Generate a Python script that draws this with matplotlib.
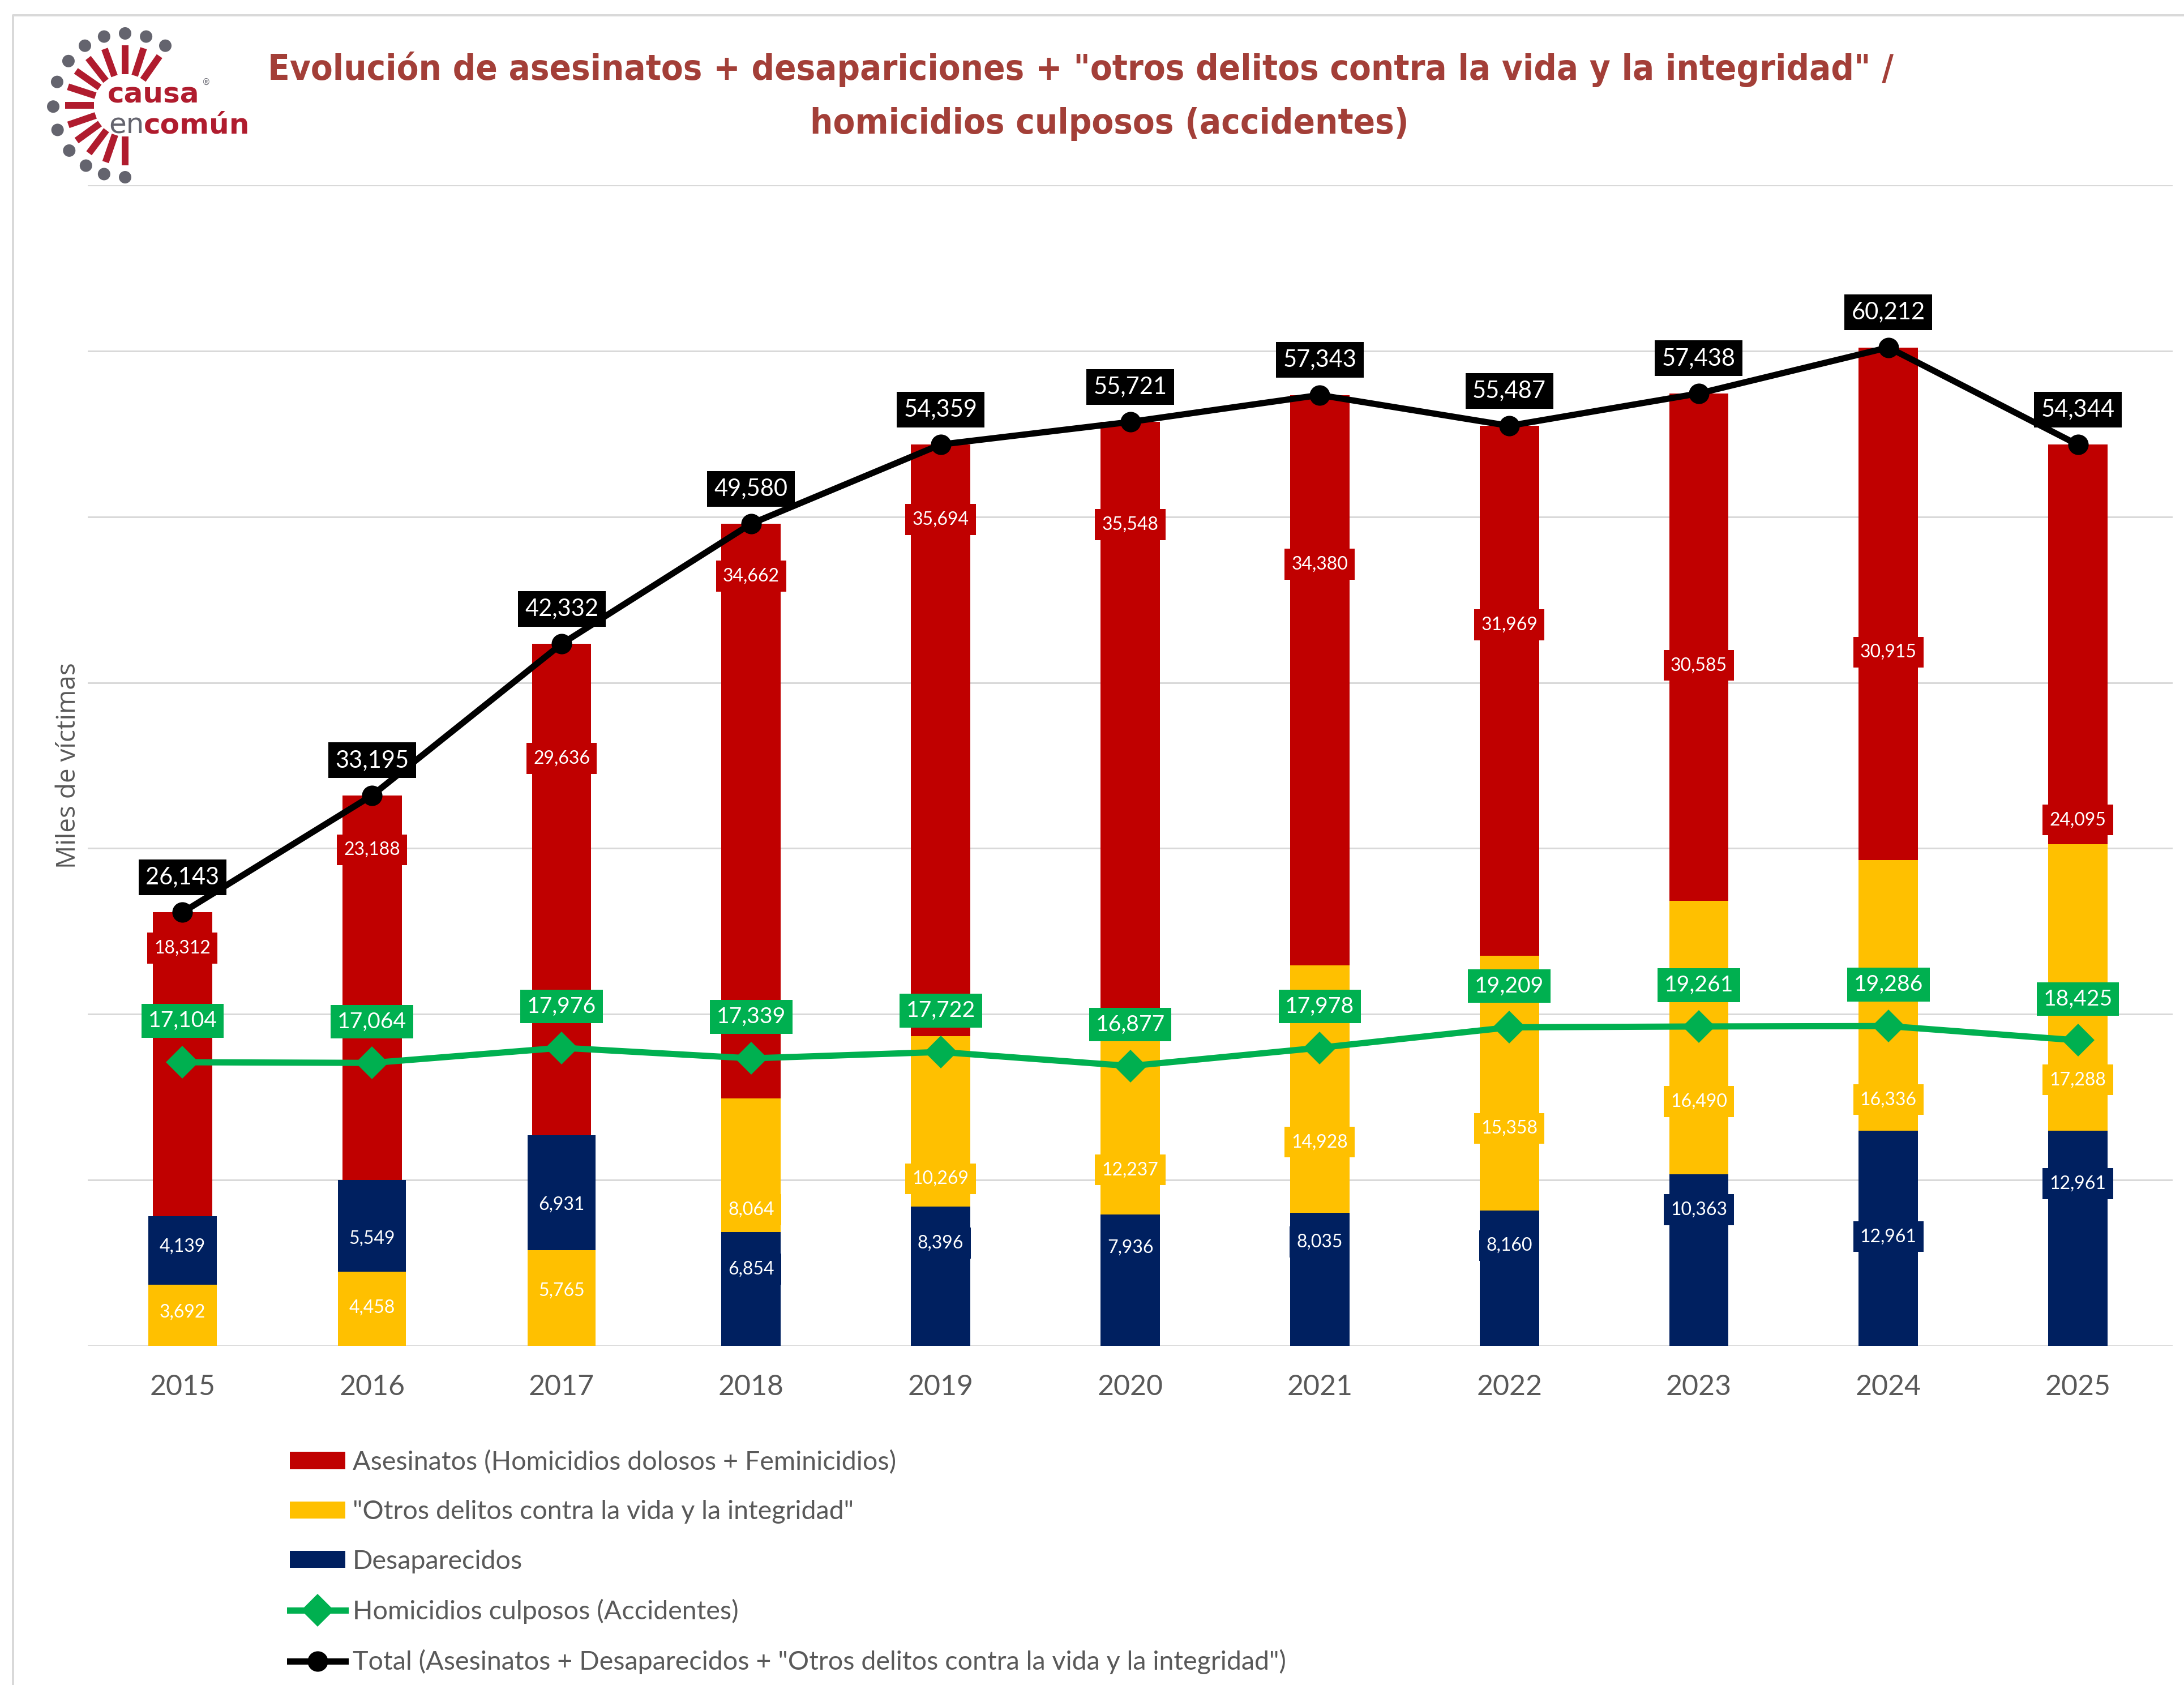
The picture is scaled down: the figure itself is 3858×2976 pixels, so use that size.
import matplotlib
matplotlib.use('Agg')
import matplotlib.pyplot as plt
import numpy as np
from matplotlib import font_manager as fm
from matplotlib.patches import Circle, Patch
from matplotlib.lines import Line2D


# =============================================================================
# DATOS
# =============================================================================
years = ['2015', '2016', '2017', '2018', '2019', '2020', '2021', '2022', '2023', '2024', '2025']
asesinatos = [18312, 23188, 29636, 34662, 35694, 35548, 34380, 31969, 30585, 30915, 24095]
otros = [3692, 4458, 5765, 8064, 10269, 12237, 14928, 15358, 16490, 16336, 17288]
desaparecidos = [4139, 5549, 6931, 6854, 8396, 7936, 8035, 8160, 10363, 12961, 12961]
culposos = [17104, 17064, 17976, 17339, 17722, 16877, 17978, 19209, 19261, 19286, 18425]
total = [26143, 33195, 42332, 49580, 54359, 55721, 57343, 55487, 57438, 60212, 54344]

# 2015-2017: "otros delitos" va en la base de la columna
otros_abajo = [True, True, True, False, False, False, False, False, False, False, False]

# altura (en victimas) donde va cada etiqueta dentro de la columna
pos_et_asesinatos = [23984, 29915, 35426, 46421, 49840, 49530, 47137, 43480, 41040, 41830, 31720]
pos_et_otros = [2035, 2310, 3332, 8217, 10079, 10610, 12283, 13112, 14737, 14850, 16043]
pos_et_desap = [5987, 6480, 8508, 4632, 6192, 5934, 6262, 6043, 8217, 6588, 9782]

labels_leyenda = [
    'Asesinatos (Homicidios dolosos + Feminicidios)',
    '"Otros delitos contra la vida y la integridad"',
    'Desaparecidos',
    'Homicidios culposos (Accidentes)',
    'Total (Asesinatos + Desaparecidos + "Otros delitos contra la vida y la integridad")',
]

TITULO_1 = 'Evolución de asesinatos + desapariciones + "otros delitos contra la vida y la integridad" /'
TITULO_2 = 'homicidios culposos (accidentes)'

ROJO = '#C00000'
AMARILLO = '#FFC000'
AZUL = '#002060'
VERDE = '#00B050'
GRIS = '#595959'
GUINDA = '#A33F38'

W, H, DPI = 3858, 2976, 300
PX = 72 / DPI  # puntos por pixel


def fuente_condensada():
    """Busca una fuente bold condensada instalada; si no hay, None."""
    for f in fm.fontManager.ttflist:
        nombre = f.name.lower()
        estiramiento = str(f.stretch).lower()
        peso = fm.weight_dict.get(f.weight, f.weight) if isinstance(f.weight, str) else f.weight
        if ('condensed' in nombre or 'narrow' in nombre or 'condensed' in estiramiento) and peso >= 700:
            return fm.FontProperties(fname=f.fname)
    return None


# =============================================================================
# FIGURA
# =============================================================================
fig = plt.figure(figsize=(W / DPI, H / DPI), dpi=DPI)
fig.patch.set_facecolor('white')

# capa de fondo en pixeles (marco, logo, titulo)
ov = fig.add_axes([0, 0, 1, 1], zorder=0)
ov.set_xlim(0, W)
ov.set_ylim(H, 0)
ov.axis('off')

ax = fig.add_axes([155 / W, 1 - 2377 / H, (3838 - 155) / W, (2377 - 327) / H], zorder=1)
ax.set_facecolor('none')

x = np.arange(len(years))
abajo = np.array(otros_abajo)
otros_arr = np.array(otros)
desap_arr = np.array(desaparecidos)
base_otros = np.where(abajo, 0, desap_arr)
base_desap = np.where(abajo, otros_arr, 0)
base_ases = otros_arr + desap_arr
ancho_bajo = np.where(abajo, 0.36, 0.313)

ax.bar(x, asesinatos, width=0.313, bottom=base_ases, color=ROJO, zorder=2)
ax.bar(x, otros, width=ancho_bajo, bottom=base_otros, color=AMARILLO, zorder=2)
ax.bar(x, desaparecidos, width=ancho_bajo, bottom=base_desap, color=AZUL, zorder=2)

ax.plot(x, culposos, color=VERDE, lw=11 * PX, marker='D', ms=37 * PX, zorder=4)
ax.plot(x, total, color='black', lw=11 * PX, marker='o', ms=32 * PX, zorder=5)


def etiqueta(xx, yy, valor, color, size):
    ax.text(xx, yy, f'{valor:,}', ha='center', va='center', color='white', fontsize=size,
            family='Lato', zorder=6,
            bbox=dict(boxstyle='square,pad=0.38', fc=color, ec='none'))


for i in range(len(years)):
    etiqueta(x[i], pos_et_asesinatos[i], asesinatos[i], ROJO, 7.7)
    etiqueta(x[i], pos_et_otros[i], otros[i], AMARILLO, 7.7)
    etiqueta(x[i], pos_et_desap[i], desaparecidos[i], AZUL, 7.7)
    ax.annotate(f'{culposos[i]:,}', (x[i], culposos[i]), xytext=(0, 73 * PX),
                textcoords='offset points', ha='center', va='center', color='white',
                fontsize=9.4, family='Lato', zorder=7,
                bbox=dict(boxstyle='square,pad=0.3', fc=VERDE, ec='none'))
    ax.annotate(f'{total[i]:,}', (x[i], total[i]), xytext=(0, 62 * PX),
                textcoords='offset points', ha='center', va='center', color='white',
                fontsize=10, family='Lato', zorder=7,
                bbox=dict(boxstyle='square,pad=0.3', fc='black', ec='none'))

ax.set_xlim(-0.5, len(years) - 0.5)
ax.set_ylim(0, 70000)
ax.set_yticks(range(0, 70001, 10000))
ax.yaxis.grid(True, color='#D9D9D9', lw=3 * PX)
ax.set_axisbelow(True)
ax.set_xticks(x)
ax.set_xticklabels(years, fontsize=12, color=GRIS, family='Lato')
ax.tick_params(axis='x', length=0, pad=12)
ax.tick_params(axis='y', length=0, labelleft=False)
for s in ax.spines.values():
    s.set_visible(False)

ax.set_ylabel('Miles de víctimas', fontsize=11, color=GRIS, family='Open Sans')
ax.yaxis.set_label_coords((144 - 155) / (3838 - 155), 0.5)

# leyenda
handles = [
    Patch(facecolor=ROJO),
    Patch(facecolor=AMARILLO),
    Patch(facecolor=AZUL),
    Line2D([], [], color=VERDE, lw=11 * PX, marker='D', ms=37 * PX),
    Line2D([], [], color='black', lw=11 * PX, marker='o', ms=32 * PX),
]
fig.legend(handles, labels_leyenda, loc='upper left', bbox_to_anchor=(512 / W, 1 - 2561 / H),
           frameon=False, prop=fm.FontProperties(family='Lato', size=11.2), labelcolor=GRIS,
           handlelength=2.1, handleheight=0.62, handletextpad=0.28, labelspacing=0.97,
           borderpad=0, borderaxespad=0)

# marco
ov.plot([23, 23, W], [H, 27, 27], color='#D9D9D9', lw=4 * PX)

# titulo: se ajusta el tamaño al ancho del original
fp_tit = fuente_condensada()
if fp_tit is None:
    fp_tit = fm.FontProperties(family='Lato', weight='bold')
fp_tit.set_size(16)
t1 = ov.text(1909, 123, TITULO_1, ha='center', va='center', color=GUINDA, fontproperties=fp_tit)
renderer = fig.canvas.get_renderer()
ancho = t1.get_window_extent(renderer).width
fp_tit.set_size(16 * 2874 / ancho)
t1.set_fontproperties(fp_tit)
ov.text(1960, 219, TITULO_2, ha='center', va='center', color=GUINDA, fontproperties=fp_tit)

# logo causa en común
cx, cy = 221, 186
ROJO_LOGO = '#B01C2E'
GRIS_LOGO = '#64646E'
for ang in [56, 73, 90, 107, 124, 142, 161, 181, 200, 219, 237, 253, 270]:
    a = np.radians(ang)
    ov.add_patch(Circle((cx + 127 * np.cos(a), cy - 127 * np.sin(a)), 11, color=GRIS_LOGO, lw=0))
for ang in [55, 72, 90, 110, 128, 145, 162, 180, 199, 216, 233, 251, 270]:
    a = np.radians(ang)
    ov.plot([cx + 55 * np.cos(a), cx + 106 * np.cos(a)], [cy - 55 * np.sin(a), cy - 106 * np.sin(a)],
            color=ROJO_LOGO, lw=12 * PX, solid_capstyle='butt')
ov.text(190, 182, 'causa', ha='left', va='baseline', fontsize=12, weight='bold',
        color=ROJO_LOGO, family='DejaVu Sans')
ov.text(357, 150, '®', ha='left', va='baseline', fontsize=3.5, color=GRIS_LOGO, family='DejaVu Sans')
t_en = ov.text(192, 235, 'en', ha='left', va='baseline', fontsize=12, color=GRIS_LOGO,
               family='DejaVu Sans')
ov.annotate('común', xy=(1, 0), xycoords=t_en, ha='left', va='bottom', fontsize=12,
            weight='bold', color=ROJO_LOGO, family='DejaVu Sans')

fig.savefig('out.png', dpi=DPI, facecolor='white')
